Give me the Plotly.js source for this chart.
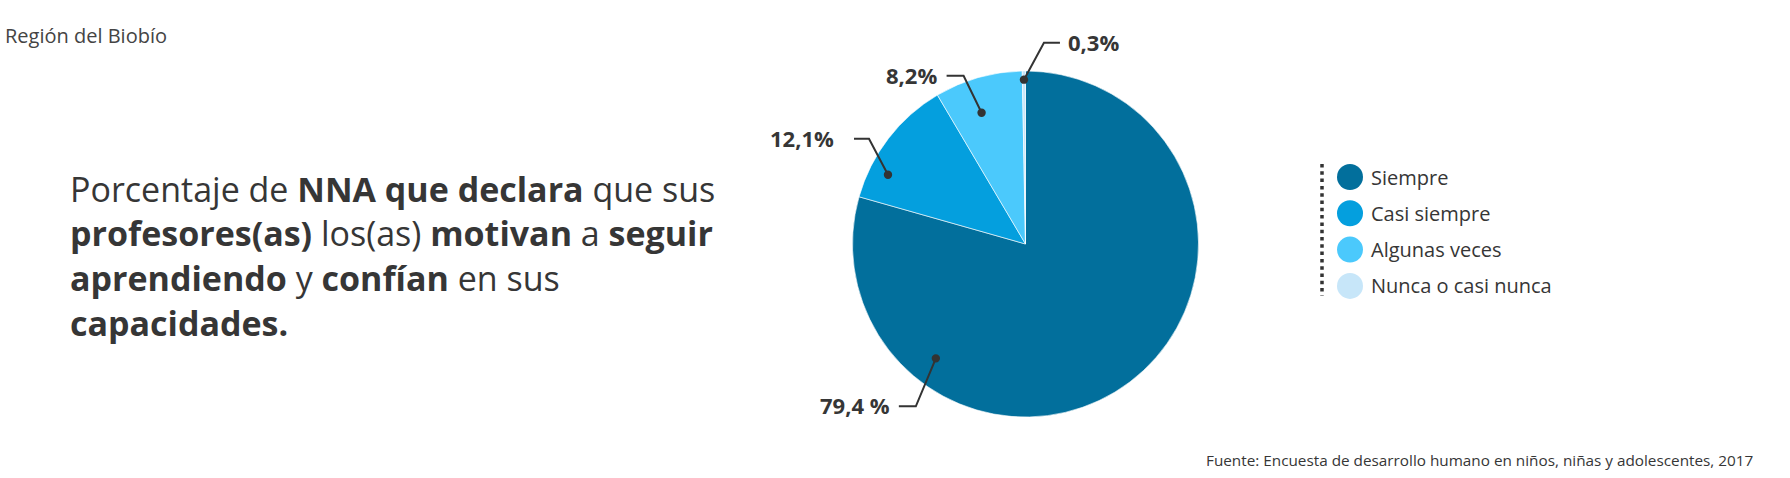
<!DOCTYPE html>
<html>
<head>
<meta charset="utf-8">
<script src="https://cdn.plot.ly/plotly-3.0.1.min.js"></script>
<style>html,body{margin:0;padding:0;background:#fff;}#chart{width:1790px;height:478px;}</style>
</head>
<body>
<div id="chart"></div>
<script>
// ---- data ----
var categories = ["Siempre", "Casi siempre", "Algunas veces", "Nunca o casi nunca"];
var values = [79.4, 12.1, 8.2, 0.3];
var valueLabels = ["79,4 %", "12,1%", "8,2%", "0,3%"];
var colors = ["#026f9c", "#049fde", "#4bc9fc", "#c7e6f9"];
var regionText = "Región del Biobío";
var titleLines = [
  "Porcentaje de <b>NNA que declara</b> que sus",
  "<b>profesores(as)</b> los(as) <b>motivan</b> a <b>seguir</b>",
  "<b>aprendiendo</b> y <b>confían</b> en sus",
  "<b>capacidades.</b>"
];
var sourceText = "Fuente: Encuesta de desarrollo humano en niños, niñas y adolescentes, 2017";

// ---- layout constants ----
var W = 1790, H = 478;
var FONT = "'Open Sans', 'Noto Sans', sans-serif";
var TXT = "#363636";
var pie = {cx: 1025.5, cy: 244, r: 173};
// label placement: dot position inside slice (fraction of angle span, fraction of radius),
// elbow offset from dot, horizontal tick length, gap to text
var labelCfg = [
  {f: 0.763, rf: 0.84, ex: -20, ey: 48, len: -17, gap: -7},
  {f: 0.25, rf: 0.89, ex: -19, ey: -36, len: -15, gap: -18},
  {f: 0.41, rf: 0.80, ex: -18, ey: -37, len: -17, gap: -8},
  {f: 0.5, rf: 0.95, ex: 20, ey: -37, len: 16, gap: 6}
];

function px(x) { return x / W; }
function py(y) { return 1 - y / H; }

var shapes = [];
var annotations = [];
var total = values.reduce(function (a, b) { return a + b; }, 0);
var cum = 0;
for (var i = 0; i < values.length; i++) {
  var start = cum / total * 360;
  var span = values[i] / total * 360;
  cum += values[i];
  var c = labelCfg[i];
  var ang = (start + c.f * span) * Math.PI / 180; // clockwise from 12 o'clock
  var dx = pie.cx + Math.sin(ang) * pie.r * c.rf;
  var dy = pie.cy - Math.cos(ang) * pie.r * c.rf;
  var exx = dx + c.ex, eyy = dy + c.ey;
  var endx = exx + c.len;
  shapes.push({
    type: "path", xref: "paper", yref: "paper",
    path: "M" + px(dx) + "," + py(dy) + " L" + px(exx) + "," + py(eyy) + " L" + px(endx) + "," + py(eyy),
    line: {color: "#333333", width: 2}
  });
  var dr = 4.2;
  shapes.push({
    type: "circle", xref: "paper", yref: "paper",
    x0: px(dx - dr), x1: px(dx + dr), y0: py(dy + dr), y1: py(dy - dr),
    fillcolor: "#333333", line: {width: 0}
  });
  annotations.push({
    xref: "paper", yref: "paper", x: px(endx + c.gap), y: py(eyy - 1),
    xanchor: c.gap < 0 ? "right" : "left", yanchor: "middle",
    text: "<b>" + valueLabels[i] + "</b>", showarrow: false,
    font: {family: FONT, size: 22, color: TXT}
  });
}

// dotted legend rule
shapes.push({
  type: "line", xref: "paper", yref: "paper",
  x0: px(1322), x1: px(1322), y0: py(164), y1: py(296),
  line: {color: "#333333", width: 3.5, dash: "3.5px,3.8px"}
});

annotations.push({
  xref: "paper", yref: "paper", x: px(3), y: py(36), xanchor: "left", yanchor: "middle",
  text: regionText, showarrow: false, font: {family: FONT, size: 20, color: "#444444"}
});
var titleSize = 34, center0 = 188.5, lineStep = 44.9;
titleLines.forEach(function (t, k) {
  annotations.push({
    xref: "paper", yref: "paper", x: px(68), y: py(center0 + k * lineStep),
    xanchor: "left", yanchor: "middle", align: "left",
    text: t, showarrow: false, font: {family: FONT, size: titleSize, color: TXT}
  });
});
annotations.push({
  xref: "paper", yref: "paper", x: px(1755), y: py(460), xanchor: "right", yanchor: "middle",
  text: sourceText, showarrow: false, font: {family: FONT, size: 15.3, color: TXT}
});

var idx = categories.map(function (_, k) { return k; });
// legend labels placed on the legend axes, next to each circle
idx.forEach(function (k) {
  annotations.push({
    xref: "x", yref: "y", x: 0, y: k, xshift: 19, xanchor: "left", yanchor: "middle",
    text: categories[k], showarrow: false, font: {family: FONT, size: 20, color: TXT}
  });
});

var traces = [
  {
    type: "pie", values: values, labels: categories, sort: false, direction: "clockwise", rotation: 0,
    marker: {colors: colors, line: {color: "#ffffff", width: 0.6}},
    textinfo: "none", hoverinfo: "label+percent", showlegend: false,
    domain: {x: [px(pie.cx - pie.r), px(pie.cx + pie.r)], y: [py(pie.cy + pie.r), py(pie.cy - pie.r)]}
  },
  {
    type: "scatter", mode: "markers", x: idx.map(function () { return 0; }), y: idx,
    text: categories, marker: {size: 26, color: colors, line: {width: 0}},
    hoverinfo: "text", showlegend: false, cliponaxis: false
  }
];

var yTop = 177, step = 36.3;
var layout = {
  width: W, height: H,
  margin: {l: 0, r: 0, t: 0, b: 0},
  paper_bgcolor: "#ffffff", plot_bgcolor: "rgba(0,0,0,0)",
  showlegend: false,
  xaxis: {domain: [px(1330), px(1630)], range: [-1, 14], visible: false, fixedrange: true},
  yaxis: {domain: [py(yTop + step * 3.5), py(yTop - step * 0.5)], range: [3.5, -0.5], visible: false, fixedrange: true},
  shapes: shapes,
  annotations: annotations
};

Plotly.newPlot("chart", traces, layout, {displayModeBar: false});
</script>
</body>
</html>
